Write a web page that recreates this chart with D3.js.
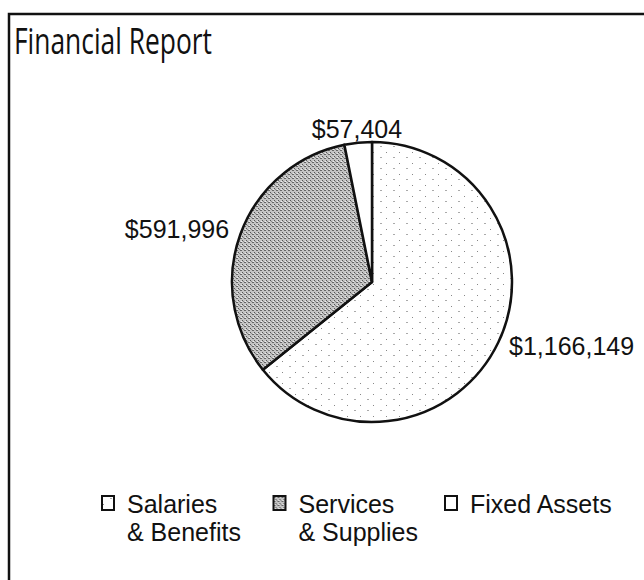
<!DOCTYPE html>
<meta charset="utf-8">
<style>
  body { margin: 0; background: #fff; }
  .labels text, .legend text { font-family: "Liberation Sans", Arial, sans-serif; font-size: 25px; fill: #111; }
  .title { font-family: "Open Sans", "Noto Sans", sans-serif; font-size: 37px; fill: #111; }
</style>
<script src="https://cdnjs.cloudflare.com/ajax/libs/d3/7.8.5/d3.min.js"></script>
<body>
<script>

const width = 644;
const height = 580;

// chart data
const categories = ["Salaries & Benefits", "Services & Supplies", "Fixed Assets"];
const values = [1166149, 591996, 57404];
const valueLabels = ["$1,166,149", "$591,996", "$57,404"];
const legendLines = [["Salaries", "& Benefits"], ["Services", "& Supplies"], ["Fixed Assets"]];
const fills = ["url(#dotsLight)", "url(#dotsDense)", "#fff"];

const cx = 372, cy = 282, radius = 140;

const svg = d3.select("body")
              .append("svg")
              .attr("width", width)
              .attr("height", height);

// textures to mimic the printed shading
const defs = svg.append("defs");

const light = defs.append("pattern")
                  .attr("id", "dotsLight")
                  .attr("patternUnits", "userSpaceOnUse")
                  .attr("width", 13)
                  .attr("height", 11);
light.append("rect").attr("width", 13).attr("height", 11).attr("fill", "#fff");
light.append("rect").attr("x", 1).attr("y", 2).attr("width", 1).attr("height", 1).attr("fill", "#888");
light.append("rect").attr("x", 8).attr("y", 7).attr("width", 2).attr("height", 1).attr("fill", "#aaa");

const dense = defs.append("pattern")
                  .attr("id", "dotsDense")
                  .attr("patternUnits", "userSpaceOnUse")
                  .attr("width", 4)
                  .attr("height", 4);
dense.append("rect").attr("width", 4).attr("height", 4).attr("fill", "#c4c4c4");
dense.append("rect").attr("x", 0).attr("y", 0).attr("width", 2).attr("height", 1).attr("fill", "#666");
dense.append("rect").attr("x", 2).attr("y", 2).attr("width", 1).attr("height", 1).attr("fill", "#555");
dense.append("rect").attr("x", 3).attr("y", 3).attr("width", 1).attr("height", 1).attr("fill", "#888");
dense.append("rect").attr("x", 1).attr("y", 3).attr("width", 1).attr("height", 1).attr("fill", "#eee");

// frame: only top and left edges show in the scan
svg.append("path")
   .attr("d", "M9,580 V14 H644")
   .attr("fill", "none")
   .attr("stroke", "#111")
   .attr("stroke-width", 2.5);

svg.append("text")
   .attr("class", "title")
   .attr("x", 14)
   .attr("y", 54)
   .attr("textLength", 198)
   .attr("lengthAdjust", "spacingAndGlyphs")
   .text("Financial Report");

const pie = d3.pie().sort(null).value(d => d);
const arcs = pie(values);

const arc = d3.arc().innerRadius(0).outerRadius(radius);
const labelArc = d3.arc().innerRadius(radius + 12).outerRadius(radius + 12);

const g = svg.append("g").attr("transform", `translate(${cx},${cy})`);

g.append("g")
 .attr("class", "slices")
 .selectAll("path")
 .data(arcs)
 .enter().append("path")
 .attr("d", arc)
 .attr("fill", (d, i) => fills[i])
 .attr("stroke", "#111")
 .attr("stroke-width", 2.5)
 .attr("stroke-linejoin", "round");

g.append("g")
 .attr("class", "labels")
 .selectAll("text")
 .data(arcs)
 .enter().append("text")
 .attr("transform", d => `translate(${labelArc.centroid(d)})`)
 .attr("dy", "0.3em")
 .attr("text-anchor", d => {
   const x = labelArc.centroid(d)[0];
   return x > 30 ? "start" : (x < -30 ? "end" : "middle");
 })
 .text((d, i) => valueLabels[i]);

// legend
const legendX = d3.scalePoint().domain(categories).range([102, 445]);

const legend = svg.append("g")
                  .attr("class", "legend")
                  .selectAll("g")
                  .data(categories)
                  .enter().append("g")
                  .attr("transform", d => `translate(${legendX(d)},513)`);

legend.append("rect")
      .attr("x", 0)
      .attr("y", -17)
      .attr("width", 12)
      .attr("height", 14)
      .attr("fill", (d, i) => fills[i])
      .attr("stroke", "#111")
      .attr("stroke-width", 2);

legend.append("text")
      .attr("x", 25)
      .selectAll("tspan")
      .data((d, i) => legendLines[i])
      .enter().append("tspan")
      .attr("x", 25)
      .attr("dy", (d, i) => i === 0 ? 0 : 28)
      .text(d => d);

</script>
</body>
